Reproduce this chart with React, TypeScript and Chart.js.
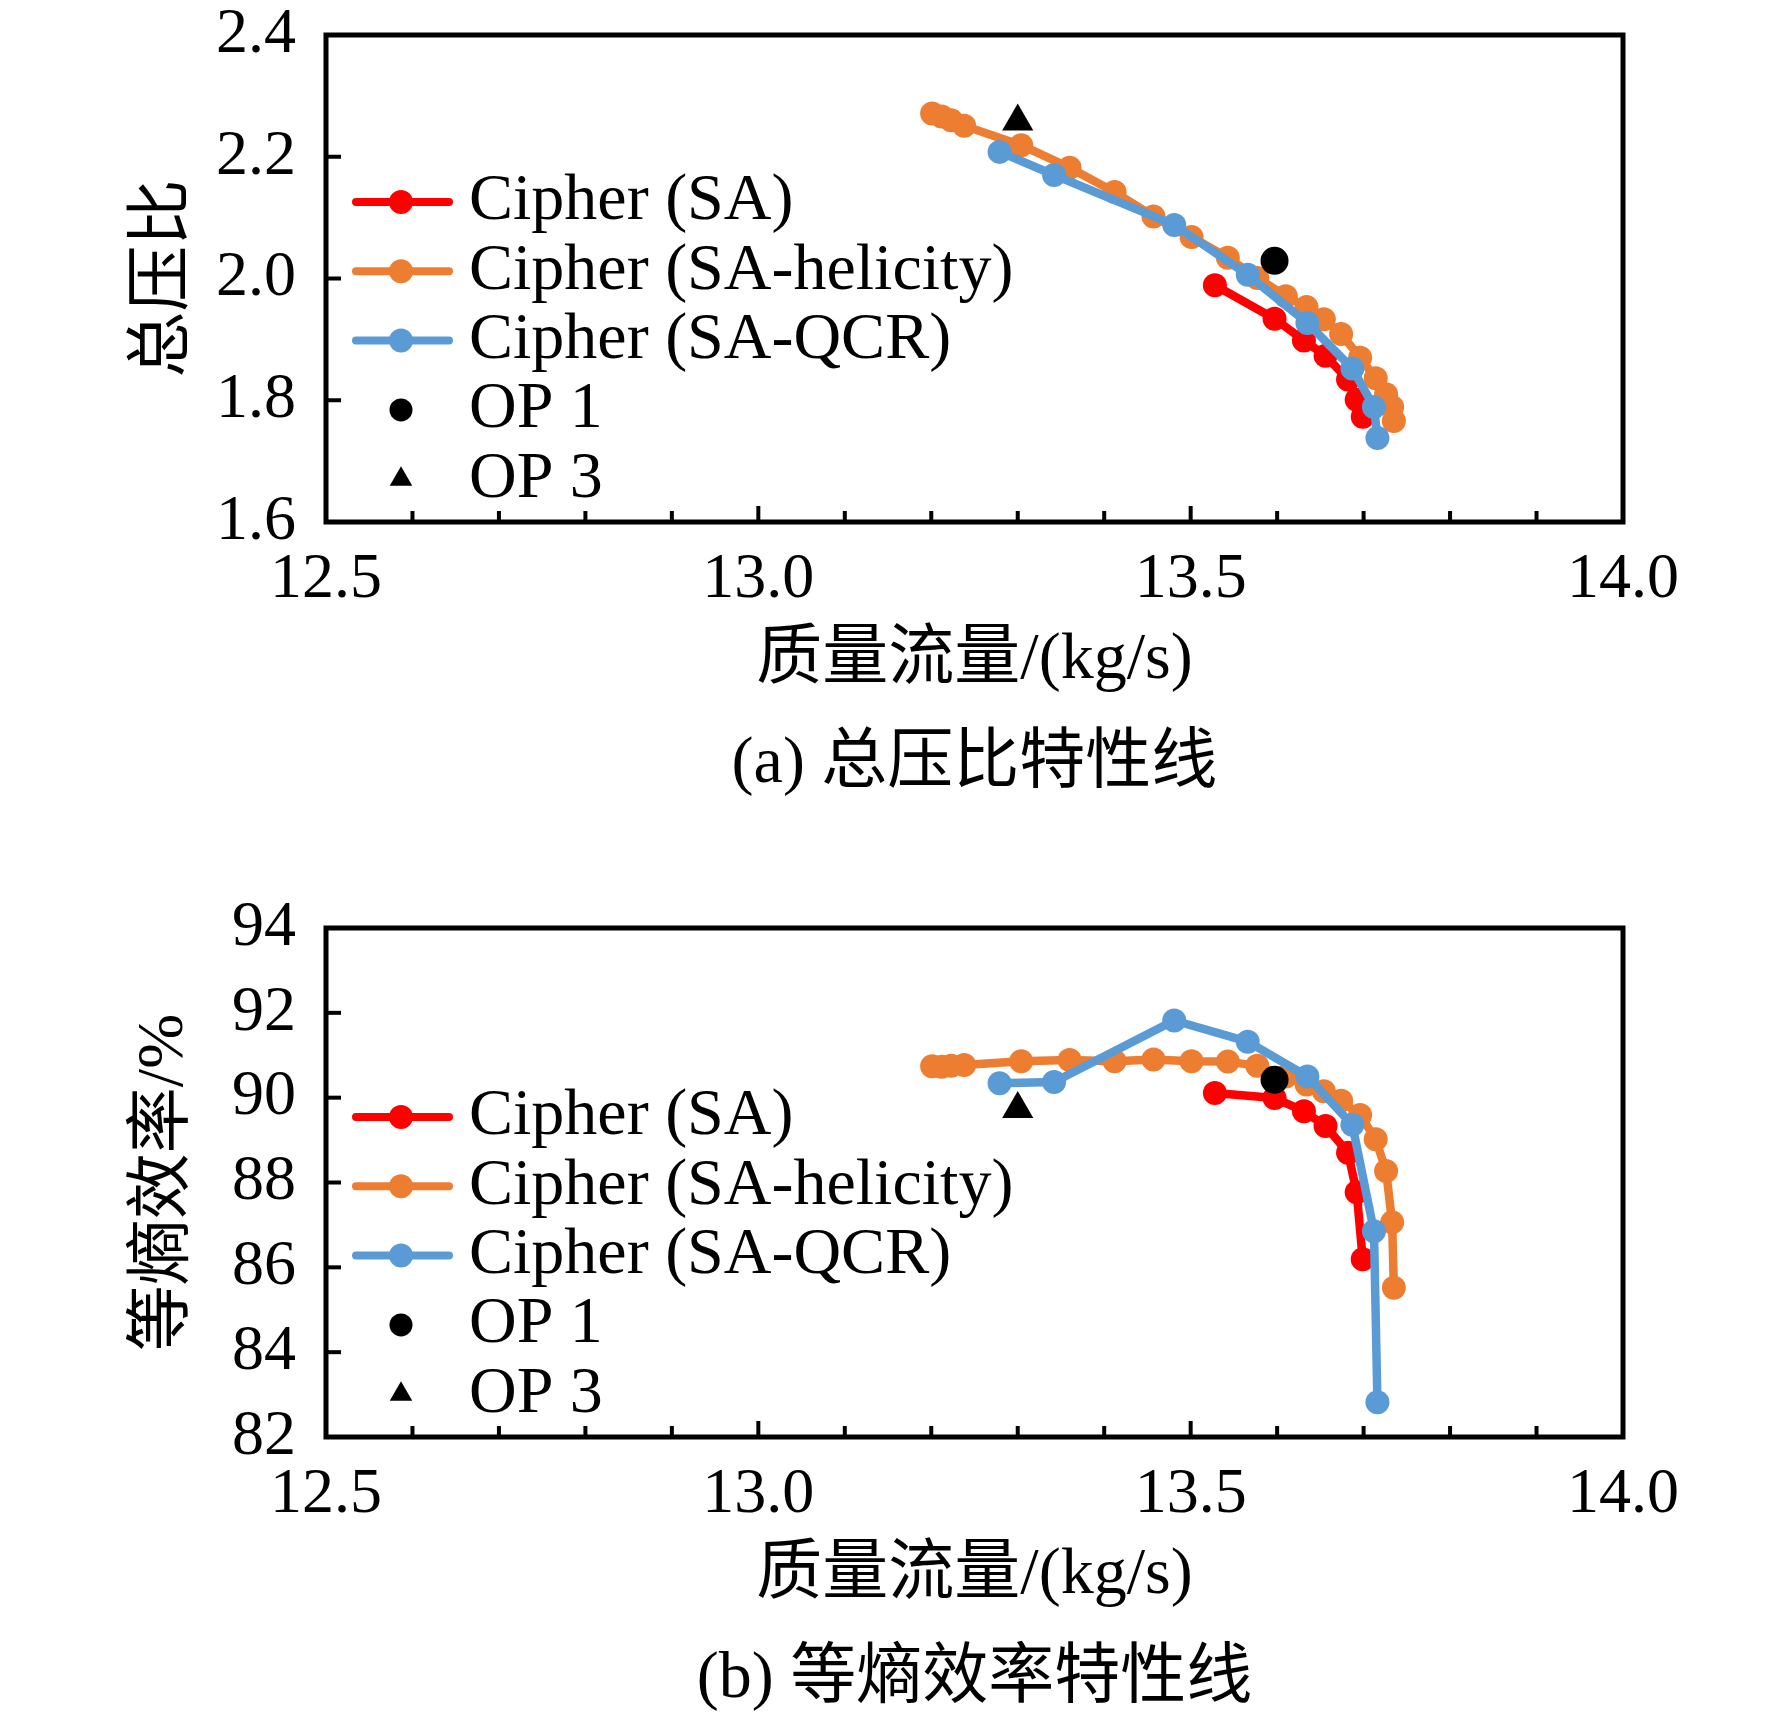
import { useEffect, useRef } from 'react'
import { Chart, registerables } from 'chart.js'

Chart.register(...registerables)

const FONT = '"Liberation Serif", "Times New Roman", "Noto Sans CJK SC", serif'

// mass flow (kg/s) of each computed point
const massSA = [13.528, 13.597, 13.631, 13.656, 13.682, 13.692, 13.699]
const massHelicity = [
  13.201, 13.212, 13.223, 13.238, 13.304, 13.36, 13.412, 13.457, 13.501, 13.543,
  13.577, 13.61, 13.634, 13.654, 13.674, 13.696, 13.714, 13.726, 13.733, 13.735,
]
const massQCR = [13.279, 13.342, 13.481, 13.566, 13.635, 13.687, 13.712, 13.716]

// total pressure ratio
const prSA = [1.989, 1.934, 1.898, 1.873, 1.834, 1.801, 1.773]
const prHelicity = [
  2.271, 2.266, 2.26, 2.251, 2.219, 2.182, 2.142, 2.102, 2.068, 2.034,
  2.001, 1.971, 1.953, 1.933, 1.909, 1.87, 1.836, 1.81, 1.789, 1.766,
]
const prQCR = [2.208, 2.17, 2.088, 2.006, 1.927, 1.852, 1.789, 1.738]

// isentropic efficiency (%)
const effSA = [90.11, 89.99, 89.68, 89.33, 88.7, 87.77, 86.19]
const effHelicity = [
  90.74, 90.73, 90.75, 90.77, 90.86, 90.89, 90.86, 90.9, 90.86, 90.85,
  90.75, 90.5, 90.31, 90.15, 89.93, 89.59, 89.02, 88.27, 87.06, 85.52,
]
const effQCR = [90.34, 90.37, 91.82, 91.32, 90.5, 89.36, 86.85, 82.82]

// operating points
const op1 = { mass: 13.597, pr: 2.029, eff: 90.42 }
const op3 = { mass: 13.3, pr: 2.258, eff: 89.73 }

const xTicks = { min: 12.5, max: 14.0, step: 0.1 }

const RED = '#FF0000'
const ORANGE = '#ED7D31'
const BLUE = '#5B9BD5'

const PAGE_W = 1772
const AREA_LEFT = 326
const AREA_RIGHT = 1623

type Series = { label: string; color: string; x: number[]; y: number[]; order: number }

type PanelProps = {
  top: number
  height: number
  areaTop: number
  areaBottom: number
  yMin: number
  yMax: number
  yStep: number
  yDecimals: number
  yTitle: string
  series: Series[]
  op1Y: number
  op3Y: number
  caption: string
}

const isMajor = (v: number) => Math.abs(v * 2 - Math.round(v * 2)) < 1e-6

function Panel({ top, height, areaTop, areaBottom, yMin, yMax, yStep, yDecimals, yTitle, series, op1Y, op3Y, caption }: PanelProps) {
  const canvasRef = useRef<HTMLCanvasElement | null>(null)
  const chartRef = useRef<Chart | null>(null)

  useEffect(() => {
    const ctx = canvasRef.current?.getContext('2d')
    if (!ctx) return

    const legendItems = [
      ...series.map((s) => ({ label: s.label, color: s.color, kind: 'line' })),
      { label: 'OP 1', color: '#000', kind: 'dot' },
      { label: 'OP 3', color: '#000', kind: 'tri' },
    ]

    // box frame, inward ticks and the legend inside the plot
    const framePlugin = {
      id: 'frame',
      afterDatasetsDraw(chart: any) {
        const { ctx: c, chartArea, scales } = chart
        const { left, right, top: t, bottom } = chartArea
        c.save()
        c.strokeStyle = '#000'
        c.lineWidth = 4
        scales.x.ticks.forEach((tk: any) => {
          const px = scales.x.getPixelForValue(tk.value)
          const len = isMajor(tk.value) ? 16 : 11
          c.beginPath()
          c.moveTo(px, bottom)
          c.lineTo(px, bottom - len)
          c.stroke()
        })
        scales.y.ticks.forEach((tk: any) => {
          const py = scales.y.getPixelForValue(tk.value)
          c.beginPath()
          c.moveTo(left, py)
          c.lineTo(left + 15, py)
          c.stroke()
        })
        c.lineWidth = 5
        c.strokeRect(left, t, right - left, bottom - t)

        legendItems.forEach((it, i) => {
          const y = bottom - 320 + i * 69.3
          const mx = left + 75
          c.fillStyle = it.color
          c.strokeStyle = it.color
          if (it.kind === 'line') {
            c.lineWidth = 8
            c.lineCap = 'round'
            c.beginPath()
            c.moveTo(left + 30, y)
            c.lineTo(left + 123, y)
            c.stroke()
            c.beginPath()
            c.arc(mx, y, 12, 0, Math.PI * 2)
            c.fill()
          } else if (it.kind === 'dot') {
            c.beginPath()
            c.arc(mx, y, 11.5, 0, Math.PI * 2)
            c.fill()
          } else {
            const r = 13
            c.beginPath()
            c.moveTo(mx, y - r)
            c.lineTo(mx + r * 0.866, y + r * 0.5)
            c.lineTo(mx - r * 0.866, y + r * 0.5)
            c.closePath()
            c.fill()
          }
          c.fillStyle = '#000'
          c.font = `66px ${FONT}`
          c.textAlign = 'left'
          c.textBaseline = 'middle'
          c.fillText(it.label, left + 143, y)
        })
        c.restore()
      },
    }

    const lineSets = series.map((s) => ({
      label: s.label,
      data: s.x.map((x, i) => ({ x, y: s.y[i] })),
      showLine: true,
      borderColor: s.color,
      backgroundColor: s.color,
      borderWidth: 8.5,
      borderJoinStyle: 'round' as const,
      borderCapStyle: 'round' as const,
      pointRadius: 12,
      pointBorderWidth: 0,
      pointBackgroundColor: s.color,
      order: s.order,
    }))

    chartRef.current = new Chart(ctx, {
      type: 'scatter',
      data: {
        datasets: [
          {
            label: 'OP 1',
            data: [{ x: op1.mass, y: op1Y }],
            pointStyle: 'circle',
            pointRadius: 14,
            pointBorderWidth: 0,
            backgroundColor: '#000',
            borderColor: '#000',
            order: 0,
          },
          {
            label: 'OP 3',
            data: [{ x: op3.mass, y: op3Y }],
            pointStyle: 'triangle',
            pointRadius: 18,
            pointBorderWidth: 0,
            backgroundColor: '#000',
            borderColor: '#000',
            order: 0,
          },
          ...lineSets,
        ],
      },
      options: {
        animation: false,
        responsive: true,
        maintainAspectRatio: false,
        layout: { padding: { top: areaTop, right: PAGE_W - AREA_RIGHT, left: 0, bottom: 0 } },
        plugins: {
          legend: { display: false },
          tooltip: { enabled: false },
          title: { display: false },
        },
        scales: {
          x: {
            type: 'linear',
            min: xTicks.min,
            max: xTicks.max,
            grid: { display: false },
            border: { display: false },
            ticks: {
              stepSize: xTicks.step,
              autoSkip: false,
              maxRotation: 0,
              padding: 18,
              color: '#000',
              font: { family: FONT, size: 64, lineHeight: 1 },
              callback: (v: any) => (isMajor(Number(v)) ? Number(v).toFixed(1) : ''),
            },
            title: {
              display: true,
              text: '质量流量/(kg/s)',
              color: '#000',
              font: { family: FONT, size: 66, lineHeight: 1.2 },
              padding: { top: 0, bottom: height - areaBottom - 139 - 39.6 },
            },
            afterFit: (s: any) => {
              s.height = height - areaBottom
            },
          },
          y: {
            type: 'linear',
            min: yMin,
            max: yMax,
            grid: { display: false },
            border: { display: false },
            ticks: {
              stepSize: yStep,
              padding: 22,
              color: '#000',
              font: { family: FONT, size: 64, lineHeight: 1 },
              callback: (v: any) => Number(v).toFixed(yDecimals),
            },
            title: {
              display: true,
              text: yTitle,
              color: '#000',
              font: { family: FONT, size: 66, lineHeight: 1.2 },
              padding: { top: 165 - 39.6, bottom: 0 },
            },
            afterFit: (s: any) => {
              s.width = AREA_LEFT
            },
          },
        },
      },
      plugins: [framePlugin],
    })

    return () => {
      chartRef.current?.destroy()
      chartRef.current = null
    }
  }, [])

  return (
    <>
      <div style={{ position: 'absolute', left: 0, top, width: PAGE_W, height }}>
        <canvas ref={canvasRef} />
      </div>
      <div
        style={{
          position: 'absolute',
          left: (AREA_LEFT + AREA_RIGHT) / 2 - 500,
          top: top + areaBottom + 238 - 33,
          width: 1000,
          textAlign: 'center',
          fontFamily: FONT,
          fontSize: 66,
          lineHeight: '66px',
          color: '#000',
          whiteSpace: 'nowrap',
        }}
      >
        {caption}
      </div>
    </>
  )
}

export default function App() {
  return (
    <div style={{ position: 'absolute', left: 0, top: 0, width: PAGE_W, height: 1721, background: '#fff', overflow: 'hidden' }}>
      <Panel
        top={-40}
        height={840}
        areaTop={75}
        areaBottom={562}
        yMin={1.6}
        yMax={2.4}
        yStep={0.2}
        yDecimals={1}
        yTitle="总压比"
        series={[
          { label: 'Cipher (SA)', color: RED, x: massSA, y: prSA, order: 3 },
          { label: 'Cipher (SA-helicity)', color: ORANGE, x: massHelicity, y: prHelicity, order: 2 },
          { label: 'Cipher (SA-QCR)', color: BLUE, x: massQCR, y: prQCR, order: 1 },
        ]}
        op1Y={op1.pr}
        op3Y={op3.pr}
        caption="(a) 总压比特性线"
      />
      <Panel
        top={860}
        height={800}
        areaTop={68}
        areaBottom={577}
        yMin={82}
        yMax={94}
        yStep={2}
        yDecimals={0}
        yTitle="等熵效率/%"
        series={[
          { label: 'Cipher (SA)', color: RED, x: massSA, y: effSA, order: 3 },
          { label: 'Cipher (SA-helicity)', color: ORANGE, x: massHelicity, y: effHelicity, order: 2 },
          { label: 'Cipher (SA-QCR)', color: BLUE, x: massQCR, y: effQCR, order: 1 },
        ]}
        op1Y={op1.eff}
        op3Y={op3.eff}
        caption="(b) 等熵效率特性线"
      />
    </div>
  )
}
